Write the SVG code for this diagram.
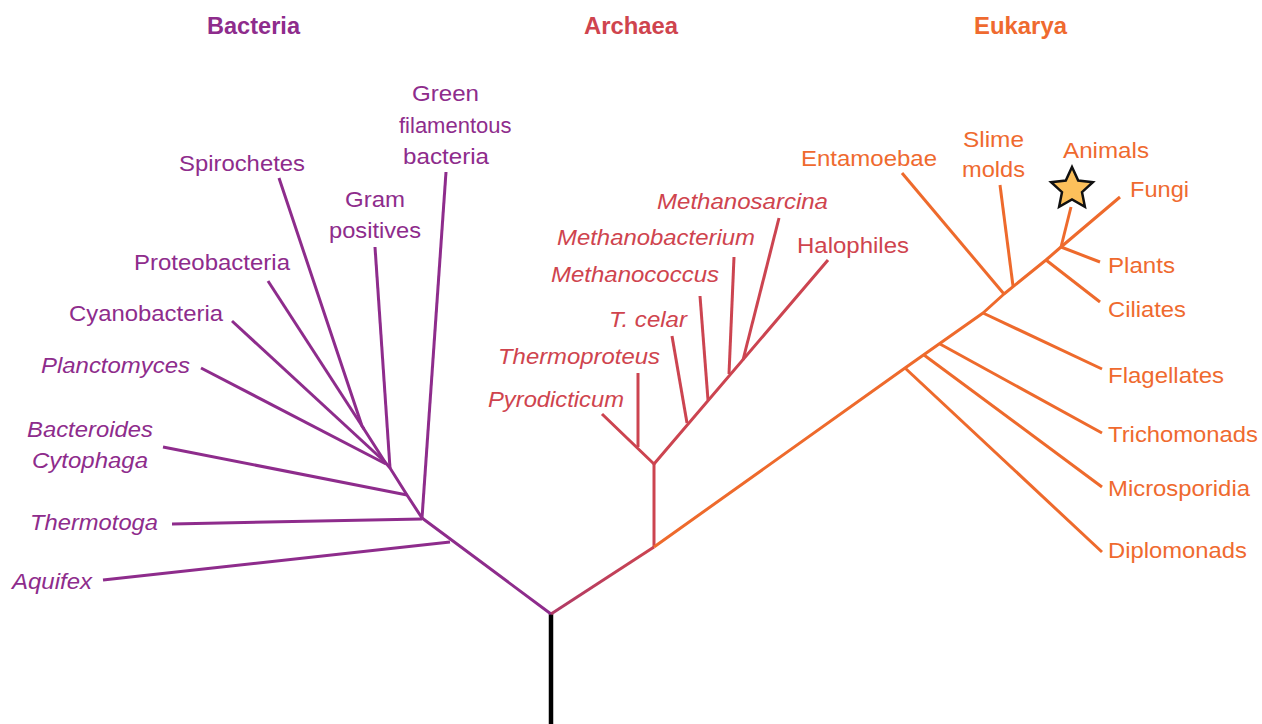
<svg xmlns="http://www.w3.org/2000/svg" width="1262" height="724" viewBox="0 0 1262 724">
<style>
text{font-family:"Liberation Sans",Arial,sans-serif;font-size:22px}
.t{font-weight:bold;font-size:23px}
.i{font-style:italic}
.b{fill:#8e2c8c}
.a{fill:#cf444e}
.e{fill:#ef6a2f}
.lb{fill:none;stroke:#8e2c8c;stroke-width:3;stroke-linecap:butt;stroke-linejoin:round}
.la{fill:none;stroke:#cc4450;stroke-width:3;stroke-linejoin:round}
.le{fill:none;stroke:#ee6a2c;stroke-width:3;stroke-linejoin:round}
</style>
<defs>
<linearGradient id="g1" gradientUnits="userSpaceOnUse" x1="551" y1="614" x2="653" y2="547">
<stop offset="0" stop-color="#b03a66"/><stop offset="1" stop-color="#cc4450"/>
</linearGradient>
</defs>
<rect width="1262" height="724" fill="#fff"/>
<g id="titles">
<text class="t b" x="207" y="34" textLength="93" lengthAdjust="spacingAndGlyphs">Bacteria</text>
<text class="t a" x="584" y="34" textLength="94" lengthAdjust="spacingAndGlyphs">Archaea</text>
<text class="t e" x="974" y="34" textLength="93" lengthAdjust="spacingAndGlyphs">Eukarya</text>
</g>
<g id="connectors">
<line x1="551" y1="614" x2="551" y2="724" stroke="#000" stroke-width="4.5"/>
<path class="lb" d="M551,614 L422,518 L407,495 L390,468 L385,462 L362,426 L279,178"/>
<path class="lb" d="M450,542 L103,580"/>
<path class="lb" d="M422,519 L172,524"/>
<path class="lb" d="M422,518 L446,172"/>
<path class="lb" d="M407,495 L163,447"/>
<path class="lb" d="M390,468 L375,247"/>
<path class="lb" d="M386,464 L201,368"/>
<path class="lb" d="M385,462 L232,321"/>
<path class="lb" d="M364,429 L268,281"/>
<path d="M551,614 L654,547" fill="none" stroke="url(#g1)" stroke-width="3"/>
<path class="la" d="M654,547 L654,464" stroke="#d3515a"/>
<path class="la" d="M602,414 L654,464 L828,260"/>
<path class="la" d="M638,447 L638,373"/>
<path class="la" d="M687,423 L672,336"/>
<path class="la" d="M708,400 L700,296"/>
<path class="la" d="M729,374 L734,257"/>
<path class="la" d="M743,360 L779,218"/>
<path class="le" d="M654,547 L905,368 L983,313 L1004,294 L1046,260 L1061,247 L1120,197"/>
<path class="le" d="M905,368 L1102,552"/>
<path class="le" d="M924,355 L1102,487"/>
<path class="le" d="M940,344 L1102,433"/>
<path class="le" d="M983,313 L1102,369"/>
<path class="le" d="M1004,294 L902,173"/>
<path class="le" d="M1013,286 L1000,185"/>
<path class="le" d="M1046,260 L1100,302"/>
<path class="le" d="M1061,247 L1100,262"/>
<path class="le" d="M1061,247 L1071,207"/>
</g>
<g id="star">
<polygon points="1072,167 1078.2,180.5 1092.9,182.2 1082,192.2 1084.9,206.8 1072,199.5 1059.1,206.8 1062,192.2 1051.1,182.2 1065.8,180.5" fill="#fcc05b" stroke="#111" stroke-width="2.5" stroke-linejoin="miter"/>
</g>
<g id="bacteria-labels">
<g id="n-green"><text class="b" x="412" y="101" textLength="67" lengthAdjust="spacingAndGlyphs">Green</text>
<text class="b" x="399" y="133">filamentous</text>
<text class="b" x="403" y="164" textLength="86" lengthAdjust="spacingAndGlyphs">bacteria</text></g>
<g id="n-spiro"><text class="b" x="179" y="171" textLength="126" lengthAdjust="spacingAndGlyphs">Spirochetes</text></g>
<g id="n-gram"><text class="b" x="345" y="207" textLength="60" lengthAdjust="spacingAndGlyphs">Gram</text>
<text class="b" x="329" y="238" textLength="92" lengthAdjust="spacingAndGlyphs">positives</text></g>
<g id="n-proteo"><text class="b" x="134" y="270" textLength="156" lengthAdjust="spacingAndGlyphs">Proteobacteria</text></g>
<g id="n-cyano"><text class="b" x="69" y="321" textLength="154" lengthAdjust="spacingAndGlyphs">Cyanobacteria</text></g>
<g id="n-plancto"><text class="b i" x="41" y="373" textLength="149" lengthAdjust="spacingAndGlyphs">Planctomyces</text></g>
<g id="n-bactero"><text class="b i" x="27" y="437" textLength="126" lengthAdjust="spacingAndGlyphs">Bacteroides</text>
<text class="b i" x="32" y="468" textLength="116" lengthAdjust="spacingAndGlyphs">Cytophaga</text></g>
<g id="n-thermotoga"><text class="b i" x="30" y="530" textLength="128" lengthAdjust="spacingAndGlyphs">Thermotoga</text></g>
<g id="n-aquifex"><text class="b i" x="12" y="589" textLength="80" lengthAdjust="spacingAndGlyphs">Aquifex</text></g>
</g>
<g id="archaea-labels">
<g id="n-msarcina"><text class="a i" x="657" y="209" textLength="171" lengthAdjust="spacingAndGlyphs">Methanosarcina</text></g>
<g id="n-mbact"><text class="a i" x="557" y="245" textLength="198" lengthAdjust="spacingAndGlyphs">Methanobacterium</text></g>
<g id="n-mcoccus"><text class="a i" x="551" y="282" textLength="168" lengthAdjust="spacingAndGlyphs">Methanococcus</text></g>
<g id="n-tcelar"><text class="a i" x="609" y="327" textLength="78" lengthAdjust="spacingAndGlyphs">T. celar</text></g>
<g id="n-thermoproteus"><text class="a i" x="498" y="364" textLength="162" lengthAdjust="spacingAndGlyphs">Thermoproteus</text></g>
<g id="n-pyro"><text class="a i" x="488" y="407" textLength="136" lengthAdjust="spacingAndGlyphs">Pyrodicticum</text></g>
<g id="n-halo"><text class="a" x="797" y="253" textLength="112" lengthAdjust="spacingAndGlyphs">Halophiles</text></g>
</g>
<g id="eukarya-labels">
<g id="n-entamoebae"><text class="e" x="801" y="166" textLength="136" lengthAdjust="spacingAndGlyphs">Entamoebae</text></g>
<g id="n-slime"><text class="e" x="963" y="147" textLength="61" lengthAdjust="spacingAndGlyphs">Slime</text>
<text class="e" x="962" y="177" textLength="63" lengthAdjust="spacingAndGlyphs">molds</text></g>
<g id="n-animals"><text class="e" x="1063" y="158" textLength="86" lengthAdjust="spacingAndGlyphs">Animals</text></g>
<g id="n-fungi"><text class="e" x="1130" y="197" textLength="59" lengthAdjust="spacingAndGlyphs">Fungi</text></g>
<g id="n-plants"><text class="e" x="1108" y="273" textLength="67" lengthAdjust="spacingAndGlyphs">Plants</text></g>
<g id="n-ciliates"><text class="e" x="1108" y="317" textLength="78" lengthAdjust="spacingAndGlyphs">Ciliates</text></g>
<g id="n-flagellates"><text class="e" x="1108" y="383" textLength="116" lengthAdjust="spacingAndGlyphs">Flagellates</text></g>
<g id="n-tricho"><text class="e" x="1108" y="442" textLength="150" lengthAdjust="spacingAndGlyphs">Trichomonads</text></g>
<g id="n-micro"><text class="e" x="1108" y="496" textLength="142" lengthAdjust="spacingAndGlyphs">Microsporidia</text></g>
<g id="n-diplo"><text class="e" x="1108" y="558" textLength="139" lengthAdjust="spacingAndGlyphs">Diplomonads</text></g>
</g>
</svg>
